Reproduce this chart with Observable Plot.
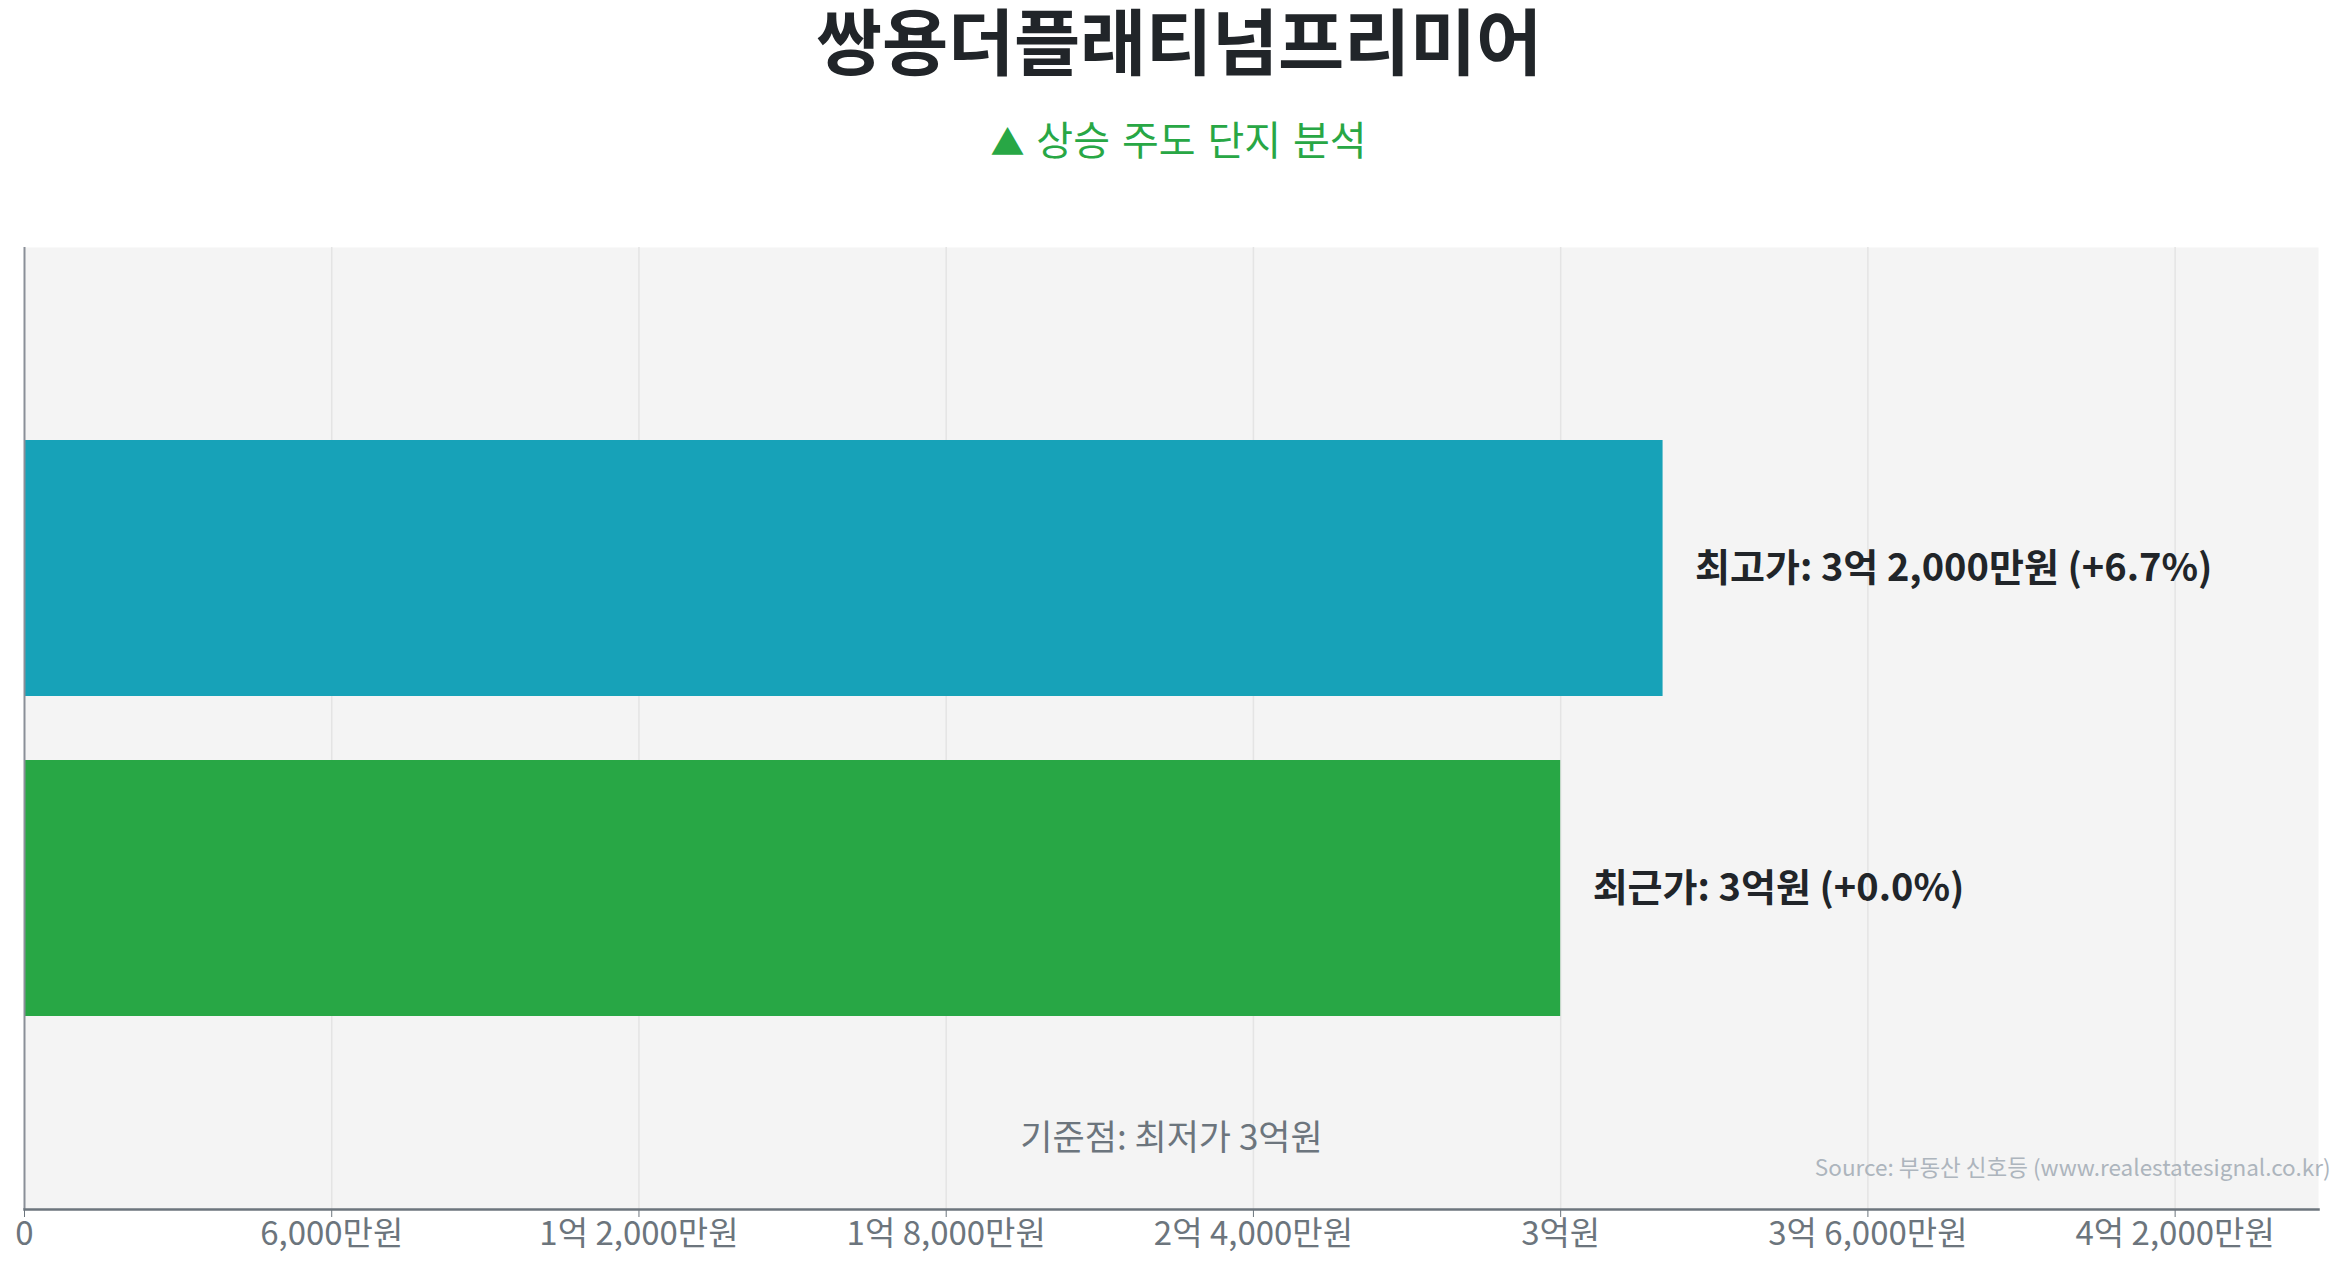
<!DOCTYPE html>
<html>
<head>
<meta charset="utf-8">
<script src="https://cdn.jsdelivr.net/npm/d3@7"></script>
<script src="https://cdn.jsdelivr.net/npm/@observablehq/plot@0.6"></script>
<style>
  @font-face {
    font-family: "TitleKR";
    src: local("Noto Sans CJK KR Bold"), local("NotoSansCJKkr-Bold"), local("Noto Sans CJK KR");
    font-weight: 700;
    ascent-override: 90%;
    descent-override: 20%;
    line-gap-override: 0%;
  }
  html, body { margin: 0; padding: 0; background: #fff; overflow: hidden; }
  body { width: 2345px; height: 1268px; font-family: "Noto Sans CJK KR", "Noto Sans", sans-serif; }
  #header { position: relative; height: 247px; width: 2345px; }
  #title { position: absolute; left: 0; right: 0; top: 2px; height: 84px; line-height: 84px; text-align: center; font-family: "TitleKR", "Noto Sans CJK KR", sans-serif; font-size: 72px; font-weight: 700; color: #212529; padding-left: 12px; }
  #subtitle { position: absolute; left: 0; right: 0; top: 112px; height: 52px; line-height: 52px; text-align: center; font-size: 40px; color: #28a745; word-spacing: 3px; padding-left: 12px; }
  #subtitle .tri { font-size: 34px; }
  #chart svg { display: block; }
</style>
</head>
<body>
<div id="header">
  <div id="title"></div>
  <div id="subtitle"></div>
</div>
<div id="chart"></div>
<script>
const titleText = "쌍용더플래티넘프리미어";
const subtitleMarker = "▲";
const subtitleText = "상승 주도 단지 분석";
const categories = ["최고가", "최근가"];
const prices = [320000000, 300000000];
const barLabels = ["최고가: 3억 2,000만원 (+6.7%)", "최근가: 3억원 (+0.0%)"];
const barColors = ["#17a2b8", "#28a745"];
const tickValues = [0, 60000000, 120000000, 180000000, 240000000, 300000000, 360000000, 420000000];
const tickLabels = ["0", "6,000만원", "1억 2,000만원", "1억 8,000만원", "2억 4,000만원", "3억원", "3억 6,000만원", "4억 2,000만원"];
const baselineNote = "기준점: 최저가 3억원";
const sourceNote = "Source: 부동산 신호등 (www.realestatesignal.co.kr)";
const xMax = 448000000;

document.getElementById("title").textContent = titleText;
const sub = document.getElementById("subtitle");
const tri = document.createElement("span");
tri.className = "tri";
tri.textContent = subtitleMarker;
sub.appendChild(tri);
sub.appendChild(document.createTextNode(" " + subtitleText));

const data = categories.map((c, i) => ({cat: c, value: prices[i], label: barLabels[i], color: barColors[i]}));
const tickLabelOf = new Map(tickValues.map((v, i) => [v, tickLabels[i]]));

const chart = Plot.plot({
  width: 2345,
  height: 1021,
  marginTop: 0,
  marginLeft: 24,
  marginRight: 27,
  marginBottom: 59,
  style: {fontFamily: "'Noto Sans CJK KR', 'Noto Sans', sans-serif", background: "#fff"},
  x: {domain: [0, xMax], axis: null},
  y: {domain: categories, paddingInner: 0.2, paddingOuter: 0.6, axis: null},
  marks: [
    Plot.frame({fill: "#f4f4f4", stroke: null}),
    Plot.ruleX(tickValues.slice(1), {stroke: "#e4e4e4", strokeWidth: 1.5}),
    Plot.barX(data, {y: "cat", x: "value", fill: "color"}),
    Plot.text(data, {y: "cat", x: "value", text: "label", textAnchor: "start", dx: 32, fontSize: 38, fontWeight: 700, fill: "#212529", style: "word-spacing: 4px"}),
    Plot.text([baselineNote], {frameAnchor: "bottom", dy: -60, fontSize: 35, fill: "#6c757d", text: d => d}),
    Plot.text([sourceNote], {frameAnchor: "bottom-right", dx: 12, dy: -34, fontSize: 22.5, fill: "#adb5bd", textAnchor: "end", text: d => d}),
    Plot.ruleX([0], {stroke: "#8a8f98", strokeWidth: 2}),
    Plot.axisX({ticks: tickValues, tickFormat: d => tickLabelOf.get(d), tickSize: 8, tickPadding: 4, fontSize: 33, color: "#6c757d", stroke: "#6c757d", label: null}),
    Plot.frame({anchor: "bottom", stroke: "#6c757d", strokeWidth: 2.5})
  ]
});
document.getElementById("chart").appendChild(chart);
</script>
</body>
</html>
